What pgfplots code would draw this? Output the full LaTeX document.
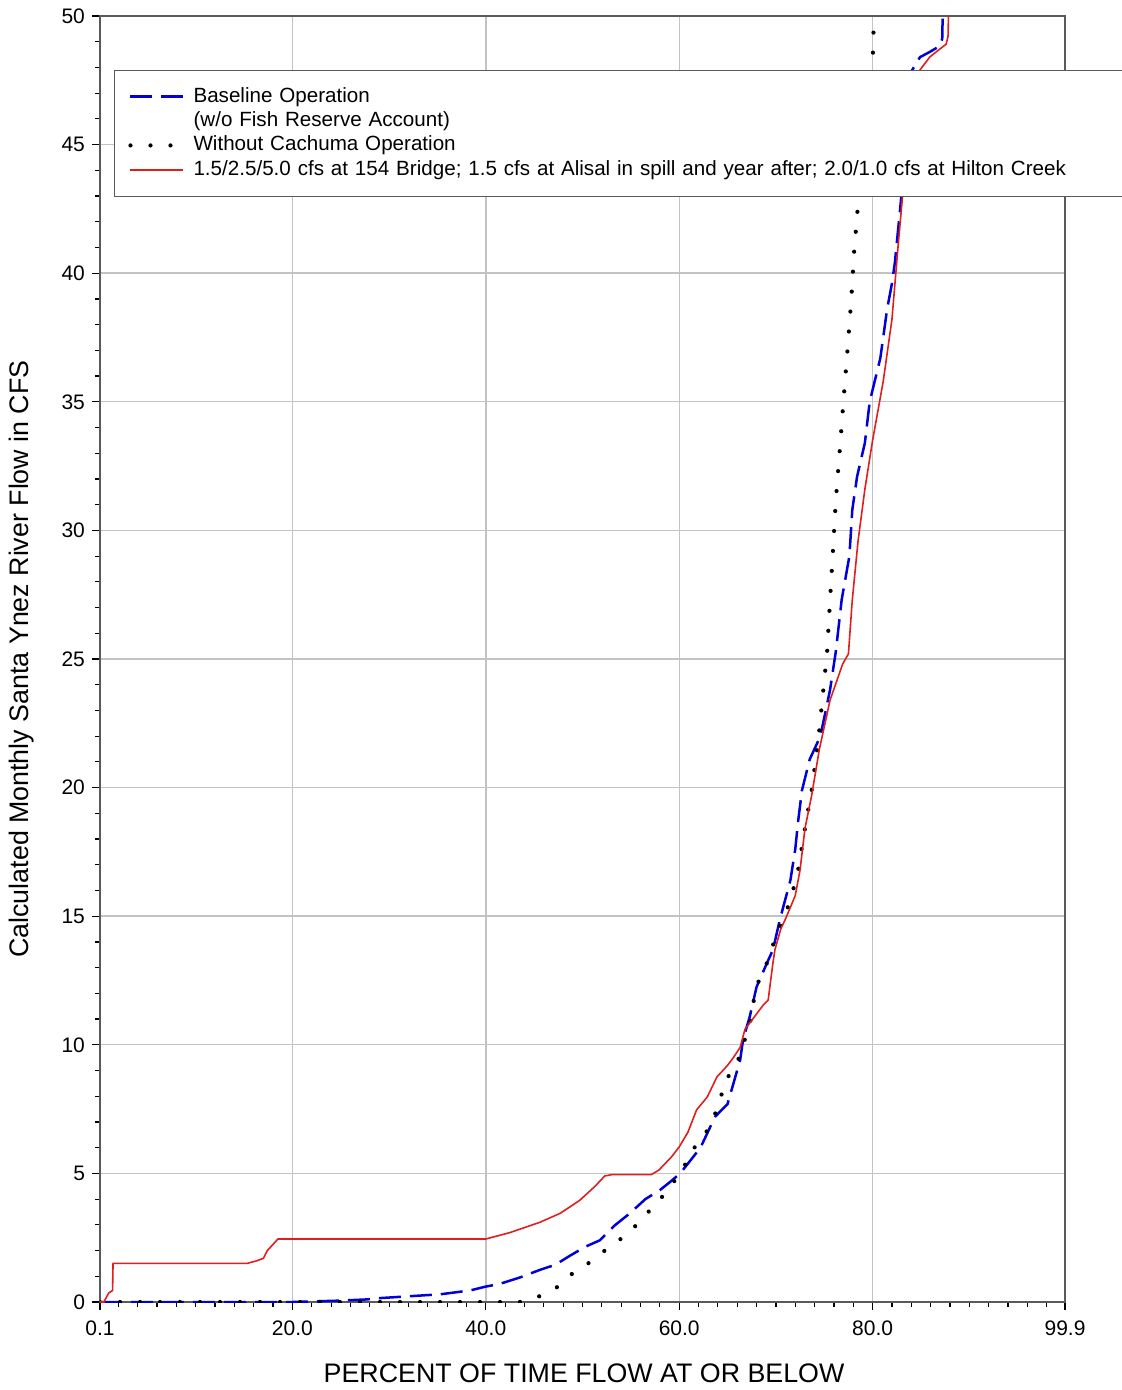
\documentclass[border=0pt]{standalone}
\usepackage{pgfplots}
\pgfplotsset{compat=1.18}
\usepackage{fontspec}
\setmainfont{Liberation Sans}
\definecolor{cblue}{RGB}{0,0,215}
\definecolor{cred}{RGB}{225,30,30}
\definecolor{cgrid}{RGB}{195,195,195}
\definecolor{cframe}{RGB}{90,90,90}
\begin{document}
\begin{tikzpicture}
\begin{axis}[
  name=ax, at={(0,0)}, anchor=south west,
  scale only axis, width=482.5pt, height=643pt,
  xmin=0.1, xmax=99.9, ymin=0, ymax=50,
  xtick={0.1,20,40,60,80,99.9},
  xticklabels={0.1,20.0,40.0,60.0,80.0,99.9},
  minor xtick={2,4,...,98},
  ytick={0,5,...,50},
  minor ytick={0,1,...,50},
  tick align=outside, tick pos=left,
  major tick length=4pt, minor tick length=2.5pt,
  every tick/.style={black, line width=0.6pt},
  grid=major, major grid style={cgrid, line width=0.7pt},
  axis line style={cframe, line width=0.7pt},
  /pgf/number format/assume math mode=true,
  ticklabel style={font=\fontsize{10.5}{12}\selectfont},
  xticklabel style={yshift=-2pt},
  xlabel={PERCENT OF TIME FLOW AT OR BELOW},
  ylabel={Calculated Monthly Santa Ynez River Flow in CFS},
  label style={font=\fontsize{13.4}{16}\selectfont},
  xlabel style={at={(axis description cs:0.5016,-0.0552)}, anchor=center},
  ylabel style={at={(axis description cs:-0.0808,0.5)}, anchor=center},
  legend style={at={(axis description cs:0.0145,0.958)}, anchor=north west,
    draw=cframe, fill=white, inner xsep=7pt, inner ysep=7pt,
    font=\fontsize{10.3}{12}\selectfont, row sep=0pt,
    nodes={text height=8pt, text depth=2.6pt, inner sep=0.8pt},
    /tikz/every odd column/.append style={column sep=3.5pt},
    /tikz/column 2/.style={text width=457pt}},
  legend cell align=left,
  legend image code/.code={\draw[mark repeat=2,mark phase=2] plot coordinates {(0cm,0cm)(0.46cm,0cm)(0.92cm,0cm)};},
]
\addplot[cblue, line width=1.25pt, dash pattern=on 11pt off 4.5pt] coordinates {
(0.1,0) (20,0) (24.6,0.05) (27.7,0.1) (29,0.15) (31.1,0.2) (35.3,0.3) (38.4,0.45) (40,0.6) (41.4,0.7) (43.5,0.95) (45.6,1.25) (47.2,1.45) (48.7,1.8) (50.3,2.15) (51.8,2.4) (53.4,3.0) (54.9,3.45) (56.5,4.0) (58,4.35) (59,4.65) (60.1,5.0) (62.2,6.0) (63.7,7.2) (65,7.7) (65.8,8.75) (66.3,9.4) (66.6,10.2) (67.3,11.1) (68,12.25) (69.1,13.2) (69.7,13.7) (70.4,14.85) (71.5,16.4) (72,17.6) (72.3,18.7) (72.7,19.9) (73.5,21.1) (74.6,22.0) (75.6,23.8) (76.2,25.3) (76.8,27.3) (77.6,29.0) (77.9,30.8) (78.4,32.1) (79.2,33.4) (79.7,35) (80.8,36.7) (81.5,38.6) (82,39.6) (82.3,40.4) (82.9,42.7) (83.5,45.5) (84.1,47.9) (84.9,48.4) (85.9,48.6) (86.8,48.8) (87.2,49.1) (87.3,51)
};
\addlegendimage{empty legend}
\addplot[black, line width=2.1pt, line cap=round, dash pattern=on 0pt off 10pt] coordinates {
(0.1,0) (43.5,0) (44.6,0.1) (46.1,0.3) (47.7,0.65) (49.2,1.2) (50.8,1.55) (52.3,2.0) (53.7,2.4) (54.7,2.6) (56.2,3.3) (57.7,3.8) (58.8,4.4) (60.3,5.05) (61.1,5.8) (62.5,6.4) (63.5,7.1) (64.2,7.8) (64.7,8.55) (66,9.3) (67.3,10.8) (67.6,11.5) (68,12.3) (68.9,13.0) (69.9,14.1) (71.5,15.6) (72.3,16.8) (73,18.4) (73.7,19.9) (74.4,21.9) (74.8,23.4) (75.3,25.3) (75.6,27.3) (75.9,29.2) (76.2,31.2) (76.6,33.1) (77,35.1) (77.4,37) (77.8,39) (78.1,40.9) (78.5,42.7) (79.2,45.5) (80.0,48) (80.2,51)
};
\addplot[cred, line width=0.8pt] coordinates {
(0.1,0) (0.5,0) (1.0,0.35) (1.4,0.45) (1.45,1.5) (15.3,1.5) (16.3,1.6) (17.0,1.7) (17.4,2.0) (17.9,2.2) (18.5,2.45) (40,2.45) (42.5,2.7) (45.6,3.1) (47.7,3.45) (49.7,3.95) (51.3,4.5) (52.3,4.9) (53,4.95) (57.1,4.95) (57.9,5.13) (59.2,5.64) (60.0,6.03) (60.9,6.6) (61.8,7.47) (62.9,7.97) (63.9,8.75) (65,9.2) (65.6,9.5) (66.3,9.9) (66.8,10.6) (67.8,11.1) (68.7,11.55) (69.2,11.74) (69.7,13.2) (69.9,13.7) (70.5,14.5) (71,14.9) (72,15.8) (72.5,16.8) (73,18.4) (73.7,19.7) (74.5,21.5) (75.6,23.4) (76.9,24.8) (77.5,25.2) (77.9,27.3) (78.5,29.6) (79.2,31.6) (80,33.5) (81.1,35.8) (82,38.2) (82.6,40.9) (83.1,43) (83.8,45.5) (84.9,47.9) (85.9,48.4) (86.9,48.7) (87.6,48.9) (87.8,49.2) (87.9,51)
};
\legend{Baseline Operation,(w/o Fish Reserve Account),Without Cachuma Operation,1.5/2.5/5.0 cfs at 154 Bridge; 1.5 cfs at Alisal in spill and year after; 2.0/1.0 cfs at Hilton Creek}
\end{axis}
\pgfresetboundingbox
\path (-50pt,-44pt) rectangle (511pt,651pt);
\end{tikzpicture}
\end{document}
